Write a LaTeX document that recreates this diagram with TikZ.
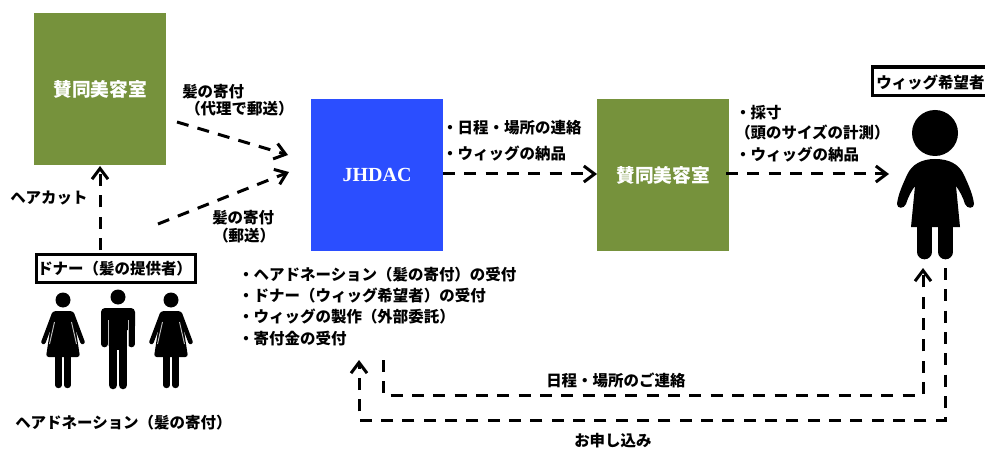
\documentclass[tikz,border=0pt]{standalone}
\usepackage{fontspec}
\setmainfont{Liberation Serif}
\newfontfamily\jpfont{Noto Sans CJK JP}
\usetikzlibrary{arrows.meta}
\definecolor{olivebox}{HTML}{76923C}
\definecolor{bluebox}{HTML}{2B4EFF}
\tikzset{
  x=0.75pt,y=-0.75pt,
  greenbox/.style={fill=olivebox,draw=none,inner sep=0,minimum width=99pt,minimum height=114pt,text=white,font=\jpfont\bfseries\fontsize{14}{16}\selectfont},
  bluenode/.style={fill=bluebox,draw=none,inner sep=0,minimum width=99pt,minimum height=114pt,text=white,font=\bfseries\fontsize{15}{17}\selectfont},
  lbl/.style={anchor=west,inner sep=0,font=\jpfont\bfseries\fontsize{11.6}{13}\selectfont},
  framed/.style={draw=black,line width=2.4pt,fill=white,inner sep=0,anchor=north west},
  flow/.style={draw=black,line width=2.25pt,dash pattern=on 9pt off 7pt,-{Straight Barb[length=8pt,width=12pt,line width=2.25pt]}},
  limb/.style={draw=black,line cap=round,line join=round},
}
\newcommand{\woman}[1]{%
  \fill[black] (#1,300) circle[radius=7.5];
  \fill[black,rounded corners=2pt] ({#1-10},311)--({#1+10},311)--({#1+17},357)--({#1-17},357)--cycle;
  \draw[limb,line width=3.4pt] ({#1-9},314)--({#1-19.5},342);
  \draw[limb,line width=3.4pt] ({#1+9},314)--({#1+19.5},342);
  \draw[white!75!black,line width=0.7pt] ({#1-8.5},322)--({#1-13.5},344);
  \draw[white!75!black,line width=0.7pt] ({#1+8.5},322)--({#1+13.5},344);
  \draw[limb,line width=4.8pt] ({#1-4.5},357)--({#1-4.5},385);
  \draw[limb,line width=4.8pt] ({#1+4.5},357)--({#1+4.5},385);
}
\begin{document}
\begin{tikzpicture}
\useasboundingbox (0,0) rectangle (985,449);
% boxes
\node[greenbox] (g1) at (100,89) {賛同美容室};
\node[bluenode] (j) at (377,175) {JHDAC};
\node[greenbox] (g2) at (663,175) {賛同美容室};
\node[framed,minimum width=119.5pt,minimum height=21.5pt] (donor) at (34.5,252.5) {};
\node[lbl] (donort) at (37,268.5) {ドナー（髪の提供者）};
\node[framed,minimum width=90pt,minimum height=21.5pt] (wish) at (870.5,65.5) {};
\node[lbl] (wisht) at (876,83) {ウィッグ希望者};
% donors
\woman{63}
\woman{171}
\fill[black] (118,297) circle[radius=7.5];
\fill[black,rounded corners=3pt] (101,308) rectangle (135,330);
\draw[limb,line width=5pt] (104.5,315)--(104.5,344);
\draw[limb,line width=5pt] (131.5,315)--(131.5,344);
\fill[black] (109,315) rectangle (127,350);
\draw[white!75!black,line width=0.7pt] (108,320)--(108,346);
\draw[white!75!black,line width=0.7pt] (128,320)--(128,346);
\draw[limb,line width=6.4pt] (113,345)--(113,385);
\draw[limb,line width=6.4pt] (123,345)--(123,385);
% wish person
\fill[black] (935,133) circle[radius=23];
\fill[black] (935,159) .. controls (922,159) and (912,164) .. (907,175) .. controls (902,186) and (898,195) .. (897,204) .. controls (897,209) and (904,209) .. (906,204) .. controls (908,197) and (912,190) .. (915,186) -- (911,227) -- (960,227) -- (956,186) .. controls (959,190) and (963,197) .. (965,204) .. controls (967,209) and (974,209) .. (974,204) .. controls (973,195) and (969,186) .. (964,175) .. controls (959,164) and (949,159) .. (935,159) -- cycle;
\draw[limb,line width=11pt] (924.5,225)--(924.5,252);
\draw[limb,line width=11pt] (945.5,225)--(945.5,252);
% coordinates
\coordinate (a1s) at (100,250);
\coordinate (a1e) at (100,166);
\coordinate (a2s) at (177,122);
\coordinate (a2e) at (288,155);
\coordinate (a3s) at (158,224);
\coordinate (a3e) at (289,172);
\coordinate (a4s) at (443,174);
\coordinate (a4e) at (597,174);
\coordinate (a5s) at (726,174);
\coordinate (a5e) at (889,174);
\coordinate (a6s) at (383,360);
\coordinate (a6e) at (923,268);
\coordinate (a7s) at (945,268);
\coordinate (a7e) at (359,360);
% connectors
\draw[flow] (a1s) -- (a1e);
\draw[flow] (a2s) -- (a2e);
\draw[flow] (a3s) -- (a3e);
\draw[flow] (a4s) -- (a4e);
\draw[flow] (a5s) -- (a5e);
\draw[flow] (a6s) -- (383,395) -- (923,395) -- (a6e);
\draw[flow] (a7s) -- (945,420) -- (359,420) -- (a7e);
% labels
\node[lbl] (t1) at (10,198) {ヘアカット};
\node[lbl] (t2) at (182,92) {髪の寄付};
\node[lbl] (t3) at (185,109) {（代理で郵送）};
\node[lbl] (t4) at (212,218) {髪の寄付};
\node[lbl] (t5) at (213,236) {（郵送）};
\node[lbl] (t6) at (442,127.5) {・日程・場所の連絡};
\node[lbl] (t7) at (442,153.5) {・ウィッグの納品};
\node[lbl] (t8) at (735,112.5) {・採寸};
\node[lbl] (t9) at (735,132.5) {（頭のサイズの計測）};
\node[lbl] (t10) at (735,154.5) {・ウィッグの納品};
\node[lbl] (t11) at (238,275) {・ヘアドネーション（髪の寄付）の受付};
\node[lbl] (t12) at (238,296) {・ドナー（ウィッグ希望者）の受付};
\node[lbl] (t13) at (238,317) {・ウィッグの製作（外部委託）};
\node[lbl] (t14) at (238,339) {・寄付金の受付};
\node[lbl] (t15) at (546,380) {日程・場所のご連絡};
\node[lbl] (t16) at (574,441) {お申し込み};
\node[lbl] (t17) at (15,423) {ヘアドネーション（髪の寄付）};
\end{tikzpicture}
\end{document}
